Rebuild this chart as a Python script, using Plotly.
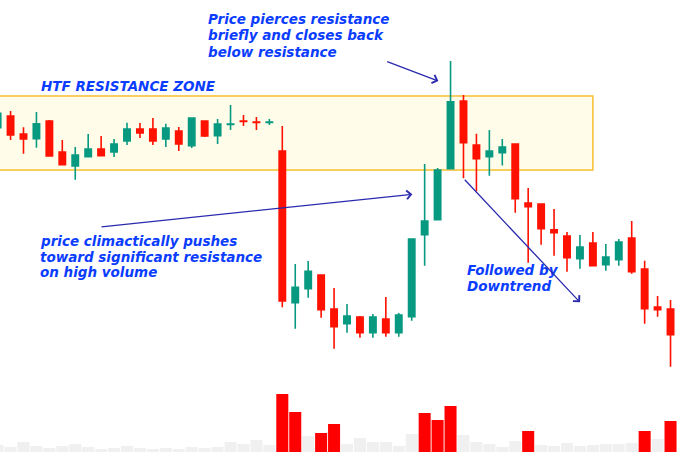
import plotly.graph_objects as go

# ---- data ----
idx = list(range(53))
opens = [332.3, 344, 326, 321.3, 339, 308, 294, 303.3, 311, 308, 319, 331, 331, 321, 329, 314.3, 339, 324.3, 335.5, 339, 338, 337.5,
         309, 157.3, 171.3, 185, 151, 136.3, 143, 127.3, 141, 127.3, 143.3, 225.3, 240.3, 291.3,
         359, 315, 303.3, 307.3, 316, 257, 256, 230.3, 224, 201.3, 217, 195.3, 200.3, 222, 191, 153, 151]
highs = [350, 349, 332.7, 348, 340, 320, 313, 326, 324, 321, 337.3, 337, 342, 336.3, 333, 342, 339, 341, 355, 345, 343, 341,
         334, 196, 199, 185, 172, 156, 144, 146, 163, 147, 221, 296, 292, 399,
         365, 326.3, 330, 321, 316.7, 272, 256, 251, 228, 225, 228, 216, 221, 239, 199.3, 164, 160]
lows = [330, 320, 306.3, 312.3, 304, 295.3, 280.3, 303.3, 304.3, 303, 315, 322, 315, 313, 309, 312, 323, 316, 330, 334, 330, 335,
        152.7, 131.3, 162.3, 142.3, 111.3, 127.3, 122.3, 122.3, 123.3, 123.3, 139.3, 194.3, 240.3, 291.3,
        281.7, 268.7, 284.3, 294.5, 247.3, 197.3, 215.3, 204.3, 188.3, 191.3, 194.3, 189.3, 194.3, 186.3, 136.3, 143.3, 93.3]
closes = [346.7, 325, 321, 336.3, 304, 295.3, 305, 311, 304.3, 316, 331, 327, 319, 332, 316, 342, 324, 336, 336, 338.5, 337.5, 338,
          159, 172.7, 188.7, 150.3, 133.3, 144, 127.3, 143, 127.3, 145, 221, 239, 290, 358.3,
          317.3, 301.3, 309, 313, 261.3, 253.3, 231.3, 227.3, 202.3, 213, 194.3, 203, 218, 188.3, 151.3, 150.3, 125.3]
volume = [7, 5, 10, 6, 4, 6, 8, 5, 3, 4, 6, 4, 3, 4, 3, 5, 4, 5, 10, 8, 12, 7,
          58, 40, 16, 19, 28, 8, 14, 10, 10, 6, 18, 39, 32, 46,
          17, 10, 8, 5, 11, 21, 7, 6, 9, 6, 7, 8, 8, 9, 21, 13, 31]
high_volume_threshold = 19

zone_low, zone_high = 290, 364
zone_end = 46.0

GREEN = "#089981"
RED = "#FF1100"
TEXT = "#0A3DFF"
ARROW = "#2A2AAE"

vol_colors = ["#FF0000" if v >= high_volume_threshold else "#F0F0F0" for v in volume]

fig = go.Figure()

fig.add_trace(go.Bar(
    x=idx, y=volume, marker=dict(color=vol_colors, line=dict(width=0)),
    width=0.93, yaxis="y2", hoverinfo="skip"))

fig.add_trace(go.Candlestick(
    x=idx, open=opens, high=highs, low=lows, close=closes,
    increasing=dict(line=dict(color=GREEN, width=1.6), fillcolor=GREEN),
    decreasing=dict(line=dict(color=RED, width=1.6), fillcolor=RED),
    whiskerwidth=0))

fig.add_shape(type="rect", xref="x", yref="y", x0=-2, x1=zone_end, y0=zone_low, y1=zone_high,
              line=dict(color="#F8BE2E", width=1.5), fillcolor="#FFFDEA", layer="below")

W, H = 677, 453

def label(text, x_px, y_center_px):
    fig.add_annotation(xref="paper", yref="paper", x=x_px / W, y=1 - y_center_px / H,
                       xanchor="left", yanchor="middle", showarrow=False,
                       text="<b><i>" + text + "</i></b>",
                       font=dict(family="DejaVu Sans", size=13.5, color=TEXT))

label("Price pierces resistance", 206, 19.3)
label("briefly and closes back", 206, 35.5)
label("below resistance", 206, 51.6)
label("HTF RESISTANCE ZONE", 38.5, 85.6)
label("price climactically pushes", 38, 240.6)
label("toward significant resistance", 38, 256.6)
label("on high volume", 38, 272.4)
label("Followed by", 464.5, 269.8)
label("Downtrend", 464.5, 285.5)

def arrow(x_tail, y_tail, x_head, y_head):
    fig.add_annotation(xref="x", yref="y", axref="x", ayref="y",
                       x=x_head, y=y_head, ax=x_tail, ay=y_tail, text="",
                       showarrow=True, arrowhead=4, arrowsize=1.3, arrowwidth=1.3,
                       arrowcolor=ARROW, standoff=0, startstandoff=0)

arrow(29.99, 399, 34.06, 379)
arrow(7.91, 233, 32.05, 265.7)
arrow(35.99, 281.7, 45.01, 157.7)

fig.update_layout(
    width=W, height=H, margin=dict(l=0, r=0, t=0, b=0),
    paper_bgcolor="white", plot_bgcolor="white", showlegend=False,
    xaxis=dict(range=[0.185, 52.5], visible=False, rangeslider=dict(visible=False)),
    yaxis=dict(range=[7, 460], visible=False),
    yaxis2=dict(range=[-1, 452], visible=False, overlaying="y"),
    boxgap=0.3,
)

fig.write_html("out.html", config={"displayModeBar": False},
               post_script="document.body.style.margin='0';document.body.style.overflow='hidden';")
